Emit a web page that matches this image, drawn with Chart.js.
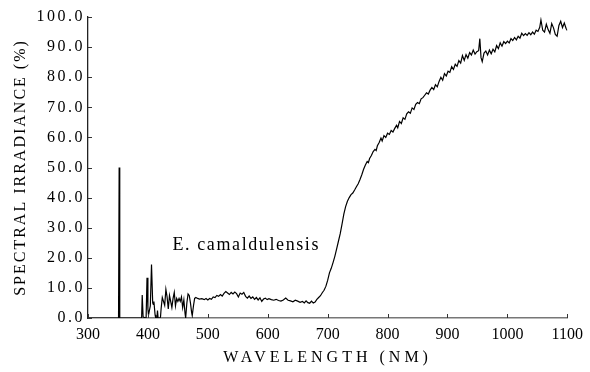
<!DOCTYPE html>
<html><head><meta charset="utf-8">
<script src="https://cdn.jsdelivr.net/npm/chart.js@4.4.1/dist/chart.umd.min.js"></script>
<style>html,body{margin:0;padding:0;background:#fff;}</style>
</head><body>
<canvas id="c" width="590" height="372"></canvas>
<script>
const wavelengths = [300,351,352,353,385,389.5,390.5,392,397,398.5,400,401,404,406,408,409,410,412,413,415,416,417,420,421,422,424,426,428,430,432,434,436,438,440,442,444,446,448,450,452,454,456,458,460,462,463,465,467,469,471,473,474,476,478,480,483,486,490,494,497,500,503,506,509,512,515,518,521,524,527,530,533,536,539,542,545,548,551,554,557,560,563,566,569,572,575,578,581,584,587,590,593,596,599,602,606,610,614,618,622,626,630,634,638,642,646,650,654,658,661,664,667,670,673,676,679,682,685,688,691,694,697,700,703,706,709,712,715,718,721,724,727,730,733,736,739,742,745,748,751,754,757,760,763,766,768,770,773,776,779,781,783,786,789,791,794,797,800,803,806,809,812,815,817,820,823,826,829,832,835,838,841,844,847,850,853,856,859,862,865,868,871,874,877,880,883,886,889,892,895,898,901,904,907,910,913,916,919,922,925,928,931,934,937,940,943,946,949,952,954,956,958,961,964,967,970,973,976,979,982,985,988,991,994,997,1000,1003,1006,1009,1012,1015,1018,1021,1024,1027,1030,1033,1036,1039,1042,1045,1048,1051,1054,1056,1059,1062,1065,1068,1071,1074,1077,1080,1083,1086,1089,1092,1095,1098,1100];
const irradiance = [0,0,50,0,0,0,7.6,0.3,0,13.4,3,1,4,17.8,5,4.5,5.5,1,0,0,2.5,0,0,0.3,3,6.8,5.5,4.2,9.5,7,3,7.5,5.5,3.5,6.5,8.5,4,6.5,5.5,6.5,5.5,7,3.5,6,1.5,0,5,8,7.5,5,1.8,0.8,4,6.5,6.8,6.5,6.3,6.4,6.1,6.5,6,6.5,6.2,7,6.8,7.5,7.2,7.8,7.3,8.2,8.8,8.3,7.8,8.5,8,8.6,8.1,7,8.3,7.9,8.5,7.2,6.6,7.3,6.5,7,6.2,6.8,6,6.7,5.5,6.3,6.6,6.1,6.4,6.1,5.9,6.2,5.8,5.6,6,6.6,5.9,5.7,5.4,5.9,5.6,5.2,5.5,5,5.7,5.1,4.9,5.6,5,5.3,6.2,6.8,7.4,8.4,9.2,10.5,12.5,15,16.5,18.4,20.5,23,25.5,28,31.2,34.5,37,38.8,40,41,41.5,42.5,43.6,44.6,46,47.6,49.4,50.8,52,51.6,53,54,55.3,56,55.6,57.2,58.3,59.8,58.8,60.6,60,61.4,61,62.3,61.8,63,64,63.2,65.3,64.6,66.5,66,67.8,68.5,68,69.8,69.3,71,71.6,71.2,72.8,73.2,74,74.8,74.4,75.7,76.6,75.9,77.5,76.8,78.6,80,79,81.2,80.4,82,81.6,83.5,82.6,84.3,83.6,85.5,84.7,87.2,85.6,87.5,86.3,88.2,87.4,89,87.7,88.5,88.8,92.8,86.5,85.2,88,88.7,87.4,89,87.8,89.3,88.4,90.5,89.5,91.4,90.3,91.8,91.2,92,91.4,92.8,92.2,93.2,92.4,93.6,93,94.6,93.8,94.5,93.9,94.8,94.1,95,94.3,95.6,95.2,96.6,99,95.6,95,97.6,95.8,94.6,97.8,96.4,94.2,93.6,97.2,98.6,96.5,98,96.2,95.5];
const xTickValues = [300,400,500,600,700,800,900,1000,1100];
const yTickValues = [0,10,20,30,40,50,60,70,80,90,100];
const xTitle = 'WAVELENGTH (NM)';
const yTitle = 'SPECTRAL IRRADIANCE (%)';
const annotationText = 'E. camaldulensis';
const annotationWavelength = 441;
const annotationValue = 24.3;
const serif = "'Liberation Serif', 'Times New Roman', serif";

const spacingPlugin = {
  id: 'spacing',
  afterUpdate(chart) {
    const wrap = (scale, method, sp) => {
      if (scale['_w_' + method]) return;
      const orig = scale[method];
      scale[method] = function (...a) {
        const ctx = this.ctx; ctx.save(); ctx.letterSpacing = sp; orig.apply(this, a); ctx.restore();
      };
      scale['_w_' + method] = true;
    };
    wrap(chart.scales.x, 'drawLabels', '0px');
    wrap(chart.scales.x, 'drawTitle', '4px');
    wrap(chart.scales.y, 'drawLabels', '2.5px');
    wrap(chart.scales.y, 'drawTitle', '2px');
  }
};
const innerTicks = {
  id: 'innerTicks',
  afterDraw(chart) {
    const {ctx, chartArea: a, scales: {x, y}} = chart;
    ctx.save(); ctx.strokeStyle = '#333'; ctx.lineWidth = 1; ctx.beginPath();
    x.ticks.forEach(t => { const px = Math.round(x.getPixelForValue(t.value)) + 0.5; ctx.moveTo(px, a.bottom); ctx.lineTo(px, a.bottom - 4); });
    y.ticks.forEach(t => { const py = Math.round(y.getPixelForValue(t.value)) + 0.5; ctx.moveTo(a.left, py); ctx.lineTo(a.left + 4, py); });
    ctx.stroke(); ctx.restore();
  }
};
const annotation = {
  id: 'annotation',
  afterDraw(chart) {
    const {ctx, scales: {x, y}} = chart;
    ctx.save();
    ctx.font = '18px ' + serif;
    ctx.letterSpacing = '1.6px';
    ctx.fillStyle = '#000'; ctx.textAlign = 'left'; ctx.textBaseline = 'middle';
    ctx.fillText(annotationText, x.getPixelForValue(annotationWavelength), y.getPixelForValue(annotationValue));
    ctx.restore();
  }
};

function build() {
  new Chart(document.getElementById('c'), {
    type: 'line',
    data: {
      datasets: [{
        data: wavelengths.map((w, i) => ({x: w, y: irradiance[i]})),
        borderColor: '#000', borderWidth: 1.2, pointRadius: 0, tension: 0, fill: false
      }]
    },
    options: {
      responsive: false, animation: false, devicePixelRatio: 1,
      layout: {padding: {top: 17, right: 22, left: 0, bottom: 0}},
      plugins: {legend: {display: false}, tooltip: {enabled: false}},
      scales: {
        x: {
          type: 'linear', min: 300, max: 1100,
          afterBuildTicks(s) { s.ticks = xTickValues.map(v => ({value: v})); },
          afterFit(s) { s.height = 54; },
          ticks: {padding: 7, color: '#000', font: {family: serif, size: 16}, maxRotation: 0, autoSkip: false, callback: v => String(v)},
          grid: {display: false, drawTicks: false},
          border: {display: true, color: '#777', width: 1.5},
          title: {display: true, text: xTitle, color: '#000', font: {family: serif, size: 16}, padding: {top: 0, bottom: 5}}
        },
        y: {
          type: 'linear', min: 0, max: 100,
          afterBuildTicks(s) { s.ticks = yTickValues.map(v => ({value: v})); },
          afterFit(s) { s.width = 88; },
          ticks: {padding: 3, color: '#000', font: {family: serif, size: 16}, callback: v => v.toFixed(1), autoSkip: false},
          grid: {display: false, drawTicks: false},
          border: {display: true, color: '#222', width: 1.3},
          title: {display: true, text: yTitle, color: '#000', font: {family: serif, size: 16}, padding: {top: 11, bottom: 0}}
        }
      }
    },
    plugins: [spacingPlugin, innerTicks, annotation]
  });
}
if (document.fonts && document.fonts.load) {
  document.fonts.load("16px 'Liberation Serif'").then(build, build);
} else { build(); }
</script>
</body></html>
